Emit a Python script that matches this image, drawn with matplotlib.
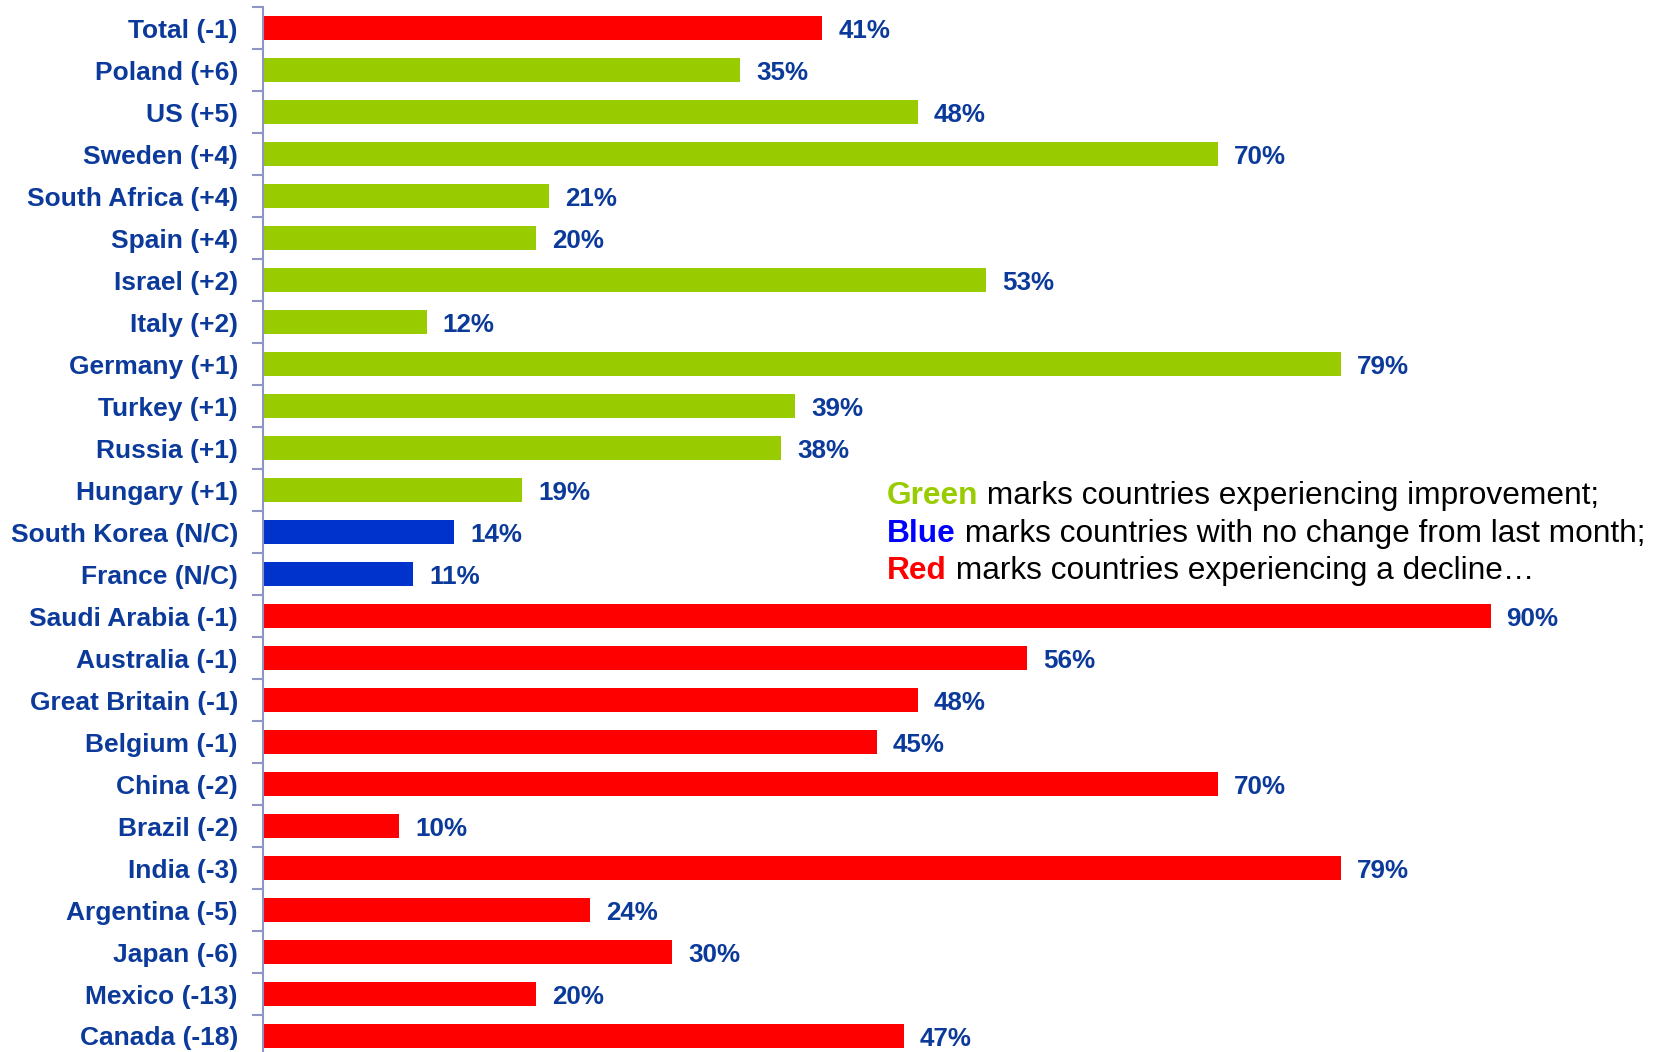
import matplotlib
matplotlib.use("Agg")
import matplotlib.pyplot as plt
from matplotlib import font_manager as fm

countries = ["Total (-1)", "Poland (+6)", "US (+5)", "Sweden (+4)", "South Africa (+4)",
             "Spain (+4)", "Israel (+2)", "Italy (+2)", "Germany (+1)", "Turkey (+1)",
             "Russia (+1)", "Hungary (+1)", "South Korea (N/C)", "France (N/C)",
             "Saudi Arabia (-1)", "Australia (-1)", "Great Britain (-1)", "Belgium (-1)",
             "China (-2)", "Brazil (-2)", "India (-3)", "Argentina (-5)", "Japan (-6)",
             "Mexico (-13)", "Canada (-18)"]
values = [41, 35, 48, 70, 21, 20, 53, 12, 79, 39, 38, 19, 14, 11, 90, 56, 48, 45, 70, 10,
          79, 24, 30, 20, 47]
status = ["down", "up", "up", "up", "up", "up", "up", "up", "up", "up", "up", "up",
          "same", "same", "down", "down", "down", "down", "down", "down", "down", "down",
          "down", "down", "down"]

colors = {"up": "#99CC00", "same": "#0033CC", "down": "#FF0000"}
label_color = "#0B3A9B"
axis_color = "#8E94C4"

names = {f.name for f in fm.fontManager.ttflist}
bold_font = "Liberation Sans" if "Liberation Sans" in names else "DejaVu Sans"
narrow_font = "Liberation Sans Narrow" if "Liberation Sans Narrow" in names else bold_font

fig = plt.figure(figsize=(16.65, 10.52), dpi=100)
ax = fig.add_axes([263 / 1665, 1 - 1057 / 1052, 1364 / 1665, 1050 / 1052])

n = len(countries)
ypos = list(range(n))
ax.barh(ypos, values, height=0.57, color=[colors[s] for s in status], zorder=2)
ax.set_xlim(0, 100)
ax.set_ylim(n - 0.5, -0.5)

for y, v in zip(ypos, values):
    ax.annotate(f"{v}%", xy=(v, y), xytext=(16, -3), textcoords="offset pixels",
                va="center", ha="left", fontsize=18.7, fontweight="bold",
                color=label_color, family=bold_font)

ax.set_yticks(ypos)
ax.set_yticklabels(countries, fontsize=19, fontweight="bold", color=label_color,
                   family=bold_font)
ax.tick_params(axis="y", which="major", length=0, pad=18)
ax.set_yticks([i - 0.5 for i in range(n + 1)], minor=True)
ax.tick_params(axis="y", which="minor", length=8, width=1.5, color=axis_color)
ax.set_xticks([])
for s in ["top", "right", "bottom"]:
    ax.spines[s].set_visible(False)
ax.spines["left"].set_color(axis_color)
ax.spines["left"].set_linewidth(1.5)

legend_lines = [("Green", "#99CC00", " marks countries experiencing improvement;"),
                ("Blue", "#0000FF", " marks countries with no change from last month;"),
                ("Red", "#FF0000", " marks countries experiencing a decline\u2026")]
y0 = 496
for i, (word, col, rest) in enumerate(legend_lines):
    yc = y0 + i * 37.7
    t = fig.text(887 / 1665, 1 - yc / 1052, word, color=col, fontsize=22.8, fontweight="bold",
                 family=narrow_font, va="center", ha="left")
    ax.annotate(rest, xy=(1, 0), xycoords=t, va="bottom", ha="left", fontsize=22.8,
                color="black", family=narrow_font, annotation_clip=False)

fig.savefig("out.png", dpi=100)
